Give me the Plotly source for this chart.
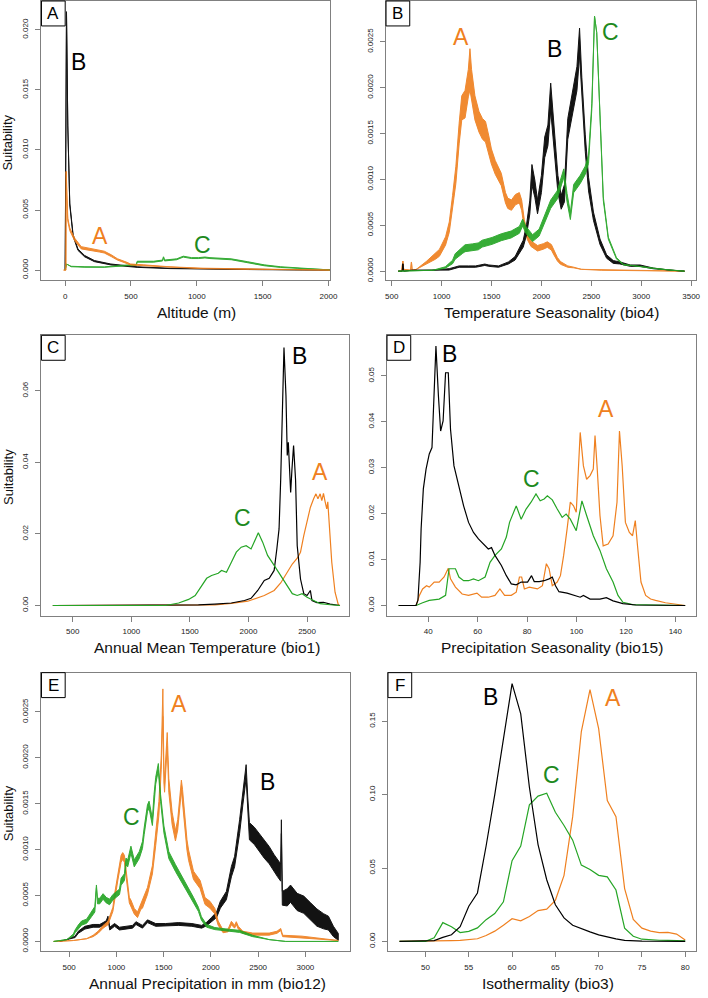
import numpy as np
import plotly.graph_objects as go

# ---------------- DATA ----------------
# Panel A: Altitude (m)
A_black_x = [0, 10, 20, 35, 60, 97, 147, 222, 347, 547, 797, 1047, 1500, 1800, 2000, 2030]
A_black_y = [0, 0.0215, 0.012, 0.0055, 0.0029, 0.0017, 0.00117, 0.00075, 0.00047, 0.00025, 0.00014, 0.0001, 0.00004, 0.00002, 0.00001, 0]
A_black_s = [0, 0, 0, 0.0002, 0.0002, 0.00015, 0.00015, 0.00012, 0.0001, 0.00006, 0.00004, 0.00003, 0.00002, 0, 0, 0]

A_orange_x = [-12, 5, 8, 12, 20, 35, 72, 122, 197, 260, 297, 350, 397, 470, 497, 597, 797, 1047, 1400, 1700, 2000, 2030]
A_orange_y = [0, 0, 0.0082, 0.006, 0.0042, 0.0034, 0.00255, 0.00186, 0.0017, 0.0016, 0.0015, 0.0012, 0.00089, 0.0006, 0.00047, 0.0004, 0.00025, 0.00014, 0.00008, 0.00004, 0.00001, 0]
A_orange_s = [0, 0, 0, 0.0003, 0.0003, 0.0003, 0.0003, 0.00025, 0.00025, 0.00025, 0.0002, 0.0002, 0.00015, 0.00012, 0.0001, 0.0001, 0.00006, 0.00005, 0.00003, 0.00002, 0, 0]

A_green_x = [0, 10, 20, 45, 150, 297, 472, 540, 547, 672, 740, 747, 755, 847, 897, 960, 1012, 1062, 1100, 1262, 1387, 1512, 1637, 1762, 2012, 2030]
A_green_y = [0, 0.0005, 0.00045, 0.0003, 0.00026, 0.00025, 0.0004, 0.00042, 0.0007, 0.0007, 0.0008, 0.0011, 0.0008, 0.0009, 0.00112, 0.001, 0.001, 0.00105, 0.001, 0.0009, 0.00066, 0.0004, 0.00025, 0.00017, 0.00003, 0]
A_green_s = [0, 0, 0, 0.00005, 0.00005, 0.00005, 0.00008, 0.00008, 0.0001, 0.0001, 0.0001, 0, 0.0001, 0.0001, 0.0001, 0.0001, 0.0001, 0.0001, 0.0001, 0.0001, 0.0001, 0.0001, 0.00008, 0.00006, 0.00002, 0]

# Panel B: Temperature Seasonality (bio4)
B_orange_x = [566, 600, 612, 620, 690, 698, 705, 747, 846, 938, 978, 1040, 1077, 1110, 1143, 1176, 1202, 1235, 1268, 1284,
              1300, 1334, 1374, 1410, 1440, 1473, 1499, 1538, 1598, 1640, 1663, 1700, 1740, 1779, 1802, 1828, 1860, 1895, 1961, 2020,
              2059, 2100, 2125, 2160, 2191, 2264, 2323, 2400, 2600, 3000, 3434]
B_orange_y = [0, 0, 0.00011, 0.00002, 0.00001, 0.0001, 0.00001, 0.00002, 0.00009, 0.00016, 0.0002, 0.00033, 0.00048, 0.00075, 0.00105, 0.0015, 0.00178, 0.00182, 0.00205, 0.0022,
              0.00205, 0.00178, 0.00163, 0.00155, 0.00152, 0.00138, 0.00125, 0.00113, 0.001, 0.0008, 0.00074, 0.00072, 0.00078, 0.0008, 0.00072, 0.00052, 0.00038, 0.0003, 0.00025, 0.00027,
              0.00029, 0.00026, 0.0002, 0.00013, 0.00009, 0.00005, 0.00004, 0.00002, 0.00001, 0.000005, 0]
B_orange_s = [0, 0, 0, 0, 0, 0, 0, 0, 0.00004, 0.00008, 0.0001, 0.00012, 0.00015, 0.0002, 0.00025, 0.0003, 0.00035, 0.0004, 0.0004, 0.0006,
              0.0004, 0.00035, 0.0003, 0.0003, 0.0003, 0.00025, 0.00022, 0.0002, 0.00018, 0.00015, 0.00015, 0.00015, 0.00015, 0.00015, 0.00015, 0.00012, 0.0001, 0.00008, 0.00008, 0.00008,
              0.00008, 0.00008, 0.00006, 0.00005, 0.00004, 0.00002, 0.00001, 0, 0, 0, 0]

B_black_x = [566, 606, 612, 620, 700, 900, 1077, 1176, 1268, 1341, 1433, 1473, 1571, 1670, 1736, 1785, 1818, 1851, 1884, 1905,
             1934, 1961, 2000, 2033, 2065, 2093, 2125, 2165, 2198, 2231, 2264, 2313, 2356, 2382, 2405, 2439, 2472, 2521, 2587, 2653,
             2720, 2785, 2890, 2989, 3121, 3300, 3434]
B_black_y = [0, 0, 0.00008, 0, 0.00001, 0.00001, 0.00002, 0.00005, 0.00005, 0.00005, 0.00007, 0.00006, 0.00005, 0.00009, 0.00014, 0.00024, 0.0003, 0.00045, 0.0007, 0.00105,
             0.0009, 0.0007, 0.00095, 0.00135, 0.00148, 0.0019, 0.00145, 0.00095, 0.00075, 0.00085, 0.00155, 0.00185, 0.0021, 0.0025, 0.002, 0.0014, 0.00095, 0.0006, 0.00032, 0.00016,
             0.0001, 0.00009, 0.00006, 0.00006, 0.00003, 0.00001, 0]
B_black_s = [0, 0, 0, 0, 0, 0, 0.00002, 0.00002, 0.00002, 0.00002, 0.00002, 0.00002, 0.00002, 0.00003, 0.00005, 0.00008, 0.0001, 0.00015, 0.0002, 0.0003,
             0.00025, 0.0002, 0.00025, 0.0003, 0.0003, 0.0004, 0.0003, 0.00025, 0.0002, 0.00025, 0.0003, 0.0003, 0.00035, 0.0004, 0.0003, 0.00025, 0.0002, 0.00012, 0.00008, 0.00005,
             0.00004, 0.00003, 0.00002, 0.00002, 0.00001, 0, 0]

B_green_x = [566, 912, 1037, 1110, 1136, 1209, 1235, 1308, 1367, 1407, 1466, 1506, 1598, 1697, 1779, 1812, 1845, 1911, 1977, 2043,
             2093, 2158, 2191, 2224, 2257, 2290, 2323, 2389, 2439, 2472, 2505, 2532, 2554, 2587, 2620, 2670, 2752, 2824, 2917, 3115,
             3300, 3434]
B_green_y = [0, 0.00001, 0.00004, 0.0001, 0.00016, 0.00023, 0.00025, 0.00026, 0.00027, 0.0003, 0.00032, 0.00033, 0.00037, 0.0004, 0.00045, 0.00053, 0.00045, 0.00036, 0.00042, 0.0006,
             0.00073, 0.00083, 0.00095, 0.00107, 0.0008, 0.0006, 0.0009, 0.001, 0.0011, 0.00122, 0.0018, 0.00278, 0.0026, 0.00168, 0.00079, 0.00036, 0.00014, 0.00007, 0.00006, 0.00003,
             0.00001, 0]
B_green_s = [0, 0, 0.00002, 0.00005, 0.00008, 0.0001, 0.0001, 0.0001, 0.0001, 0.0001, 0.0001, 0.0001, 0.0001, 0.0001, 0.0001, 0.0001, 0.0001, 0.0001, 0.0001, 0.0001,
             0.00012, 0.00012, 0.00012, 0.00012, 0.00012, 0.0001, 0.00012, 0.00012, 0.00012, 0.00012, 0.00008, 0, 0, 0.00008, 0.00005, 0.00003, 0.00002, 0.00001, 0, 0,
             0, 0]

# Panel C: Annual Mean Temperature (bio1)
C_green_x = [330, 1292, 1404, 1489, 1545, 1601, 1643, 1685, 1742, 1770, 1812, 1854, 1896, 1938, 1980, 2022, 2051, 2084, 2121, 2163,
             2219, 2275, 2331, 2374, 2416, 2458, 2500, 2556, 2612, 2697, 2781]
C_green_y = [0, 0, 0.0007, 0.0017, 0.0028, 0.0056, 0.0076, 0.0084, 0.009, 0.0098, 0.0093, 0.0121, 0.0149, 0.0163, 0.0167, 0.0158, 0.0177, 0.0203, 0.0177, 0.014,
             0.0112, 0.0084, 0.0056, 0.0033, 0.0028, 0.0033, 0.0023, 0.0014, 0.0005, 0.0002, 0]
C_black_x = [330, 1461, 1573, 1713, 1854, 1966, 2022, 2079, 2135, 2177, 2219, 2242, 2261, 2275, 2289, 2303, 2320, 2331, 2340, 2348,
             2360, 2371, 2385, 2402, 2416, 2444, 2472, 2500, 2528, 2542, 2584, 2640, 2697, 2781]
C_black_y = [0, 0, 0.0002, 0.0004, 0.0007, 0.0014, 0.002, 0.0042, 0.007, 0.0076, 0.0098, 0.0158, 0.0214, 0.0353, 0.0586, 0.0721, 0.0586, 0.0419, 0.0456, 0.038,
             0.0316, 0.038, 0.0447, 0.035, 0.0167, 0.0074, 0.0033, 0.0028, 0.0042, 0.0014, 0.0008, 0.0009, 0.0004, 0]
C_orange_x = [330, 1600, 1713, 1854, 1994, 2135, 2219, 2275, 2331, 2374, 2416, 2444, 2472, 2500, 2528, 2556, 2576, 2593, 2612, 2626,
              2640, 2654, 2668, 2677, 2685, 2711, 2739, 2767, 2781]
C_orange_y = [0, 0, 0.0002, 0.0006, 0.0012, 0.0028, 0.0042, 0.0063, 0.0093, 0.0116, 0.0132, 0.0149, 0.0195, 0.0233, 0.0274, 0.0298, 0.0312, 0.0298, 0.0312, 0.0293,
              0.0313, 0.029, 0.027, 0.029, 0.0255, 0.0121, 0.0037, 0.0002, 0]

# Panel D: Precipitation Seasonality (bio15)
D_black_x = [28, 35, 35.8, 36.7, 37.1, 38, 39.1, 40.4, 41.5, 42.4, 43.1, 44.1, 45, 46, 47, 48.1, 49, 50.4, 52.4, 54.3,
             56.3, 58.3, 60.3, 63, 64.3, 65.6, 67, 69.6, 71.6, 73.6, 75.6, 77.6, 80.2, 81.8, 82.9, 84.9, 86.9, 88.9, 90.2, 91.5,
             92.9, 96.2, 98.8, 101.5, 102.8, 105.5, 109.5, 112.1, 114.8, 118.8, 124, 144]
D_black_y = [0, 0, 0.0011, 0.0094, 0.0167, 0.0254, 0.0297, 0.033, 0.0344, 0.0478, 0.0565, 0.0457, 0.038, 0.0402, 0.0507, 0.0507, 0.0384, 0.0304, 0.0261, 0.0217,
             0.0181, 0.0159, 0.0145, 0.013, 0.0123, 0.0126, 0.0109, 0.0087, 0.0065, 0.0047, 0.0045, 0.0051, 0.0051, 0.0065, 0.0052, 0.0052, 0.0054, 0.0058, 0.0062, 0.0043,
             0.003, 0.0027, 0.0022, 0.0018, 0.0022, 0.0014, 0.0014, 0.0017, 0.001, 0.0004, 0.0001, 0]
D_orange_x = [28, 35.1, 36.4, 37.7, 39.3, 40.4, 42.4, 44.4, 46.4, 48.1, 49, 51, 53.7, 56.3, 59.7, 61.6, 64.3, 67, 69, 70.9,
              73.6, 75.6, 76.9, 77.8, 78.9, 80.9, 84.2, 86.2, 87.8, 88.9, 90.2, 92.2, 93.5, 94.8, 96.2, 97.5, 98.8, 99.9, 101.5, 102.8,
              104.1, 105.5, 106.8, 107.5, 108.4, 109.5, 110.8, 112.8, 114.8, 116.4, 117.4, 118.5, 119.8, 121.4, 122.7, 123.8, 124.7, 126.1, 128, 130,
              132, 136, 144]
D_orange_y = [0, 0, 0.0022, 0.0036, 0.0043, 0.004, 0.0051, 0.0051, 0.0062, 0.0081, 0.0058, 0.004, 0.0025, 0.0022, 0.0027, 0.0018, 0.0018, 0.0022, 0.0036, 0.0022,
              0.0022, 0.0029, 0.0062, 0.0062, 0.0036, 0.004, 0.0036, 0.0043, 0.0091, 0.008, 0.0043, 0.0051, 0.0065, 0.0109, 0.0167, 0.0225, 0.0217, 0.0203, 0.0377, 0.0304,
              0.0275, 0.0283, 0.0297, 0.037, 0.0297, 0.0196, 0.013, 0.0134, 0.0152, 0.0225, 0.038, 0.0304, 0.0181, 0.0159, 0.0152, 0.0185, 0.013, 0.0051, 0.0022, 0.0014,
              0.0011, 0.0006, 0]
D_green_x = [28, 35.1, 37.7, 40.4, 44.4, 47, 48.4, 51, 52.4, 54.3, 56.3, 58.3, 60.3, 63, 65, 67, 69.6, 71.6, 72.9, 74.3,
             75.6, 77.6, 79.6, 81.6, 83.6, 85.3, 86.9, 88.2, 90.2, 92.2, 94.2, 95.8, 97.5, 99.9, 102.2, 104.1, 106.8, 109.5, 112.1, 114.8,
             116.8, 118.8, 122.7, 144]
D_green_y = [0, 0, 0.0006, 0.0011, 0.0014, 0.0022, 0.008, 0.008, 0.0062, 0.0054, 0.0054, 0.0058, 0.0054, 0.0062, 0.0094, 0.0109, 0.0123, 0.0149, 0.0181, 0.0199,
             0.0217, 0.0188, 0.021, 0.0225, 0.0243, 0.0228, 0.0232, 0.0239, 0.023, 0.021, 0.0192, 0.0199, 0.0188, 0.0163, 0.0228, 0.0196, 0.0152, 0.012, 0.008, 0.0051,
             0.0022, 0.0007, 0.0002, 0]

# Panel E: Annual Precipitation in mm (bio12)
E_orange_x = [336, 545, 685, 754, 807, 860, 911, 963, 980, 1015, 1050, 1067, 1085, 1102, 1137, 1154, 1189, 1224, 1259, 1276,
              1329, 1381, 1416, 1450, 1475, 1492, 1503, 1510, 1538, 1555, 1590, 1625, 1649, 1688, 1700, 1719, 1747, 1764, 1816, 1886,
              1938, 1990, 2042, 2077, 2129, 2182, 2217, 2251, 2269, 2290, 2338, 2443, 2617, 2700, 2739, 2760, 2965, 3348]
E_orange_y = [0, 0.00001, 0.00003, 0.00006, 0.0001, 0.00016, 0.0002, 0.00035, 0.00048, 0.0007, 0.0009, 0.00093, 0.0009, 0.00075, 0.00045, 0.00042, 0.00033, 0.00029, 0.00038, 0.0004,
              0.00055, 0.00078, 0.0011, 0.00145, 0.00195, 0.0026, 0.0018, 0.0017, 0.0022, 0.0017, 0.00134, 0.00115, 0.00127, 0.0017, 0.0016, 0.00134, 0.00105, 0.00094, 0.00072, 0.00062,
              0.00044, 0.0004, 0.00033, 0.0002, 0.00011, 0.00012, 0.0002, 0.00016, 0.0002, 0.00015, 0.0001, 0.00008, 0.00008, 0.0001, 0.00013, 0.00006, 0.00005, 0.00001]
E_orange_s = [0, 0, 0, 0.00002, 0.00003, 0.00004, 0.00005, 0.00006, 0.00008, 0.0001, 0.0001, 0.0001, 0.0001, 0.0001, 0.00008, 0.00008, 0.00008, 0.00008, 0.00008, 0.0001,
              0.0001, 0.00012, 0.00015, 0.0002, 0.0002, 0.0004, 0.0002, 0.0002, 0.0002, 0.0002, 0.00018, 0.00015, 0.00015, 0.00015, 0.00015, 0.00015, 0.00015, 0.00015, 0.00012, 0.00012,
              0.0001, 0.0001, 0.00008, 0.00006, 0.00004, 0.00004, 0.00005, 0.00004, 0.00004, 0.00004, 0.00003, 0.00003, 0.00003, 0.00003, 0.00003, 0.00002, 0.00002, 0]

E_green_x = [336, 476, 545, 563, 597, 632, 685, 737, 772, 789, 800, 824, 859, 893, 928, 963, 1033, 1050, 1085, 1102,
             1120, 1154, 1189, 1242, 1276, 1294, 1329, 1346, 1381, 1398, 1416, 1444, 1468, 1503, 1555, 1625, 1694, 1764, 1816, 1868,
             1900, 1955, 2042, 2200, 2303, 2442, 2617, 2791, 3348]
E_green_y = [0, 0.00002, 0.00007, 0.00011, 0.00016, 0.0002, 0.00022, 0.0003, 0.00035, 0.0006, 0.00044, 0.00044, 0.00049, 0.00045, 0.00043, 0.00048, 0.00054, 0.00065, 0.0007, 0.00087,
             0.00085, 0.001, 0.00085, 0.00094, 0.00105, 0.0012, 0.00145, 0.00149, 0.0013, 0.00156, 0.00175, 0.0019, 0.00156, 0.00122, 0.00094, 0.0008, 0.00067, 0.00055, 0.00045, 0.00035,
             0.00025, 0.00017, 0.00014, 0.00012, 0.00011, 0.00006, 0.00002, 0, 0]
E_green_s = [0, 0, 0.00003, 0.00004, 0.00005, 0.00006, 0.00006, 0.00008, 0.00008, 0.00004, 0.00008, 0.00008, 0.00008, 0.00008, 0.00008, 0.00008, 0.00008, 0.0001, 0.0001, 0.0001,
             0.0001, 0.0001, 0.0001, 0.0001, 0.0001, 0.0001, 0.0001, 0.0001, 0.0001, 0.0001, 0.0001, 0.0001, 0.0001, 0.0001, 0.0001, 0.0001, 0.0001, 0.0001, 0.00008, 0.00006,
             0.00005, 0.00004, 0.00003, 0.00003, 0.00003, 0.00002, 0, 0, 0]

E_black_x = [400, 476, 563, 597, 667, 754, 824, 893, 911, 930, 981, 1033, 1172, 1207, 1276, 1329, 1416, 1520, 1659, 1799,
             1903, 1955, 2008, 2060, 2100, 2164, 2217, 2251, 2304, 2338, 2373, 2390, 2408, 2460, 2512, 2565, 2617, 2670, 2704, 2739,
             2746, 2756, 2808, 2843, 2913, 2983, 3052, 3122, 3192, 3244, 3296, 3348]
E_black_y = [0, 0.00002, 0.00005, 0.0001, 0.00015, 0.00017, 0.00017, 0.00021, 0.00026, 0.00014, 0.00018, 0.00014, 0.00016, 0.0002, 0.00016, 0.00022, 0.00018, 0.00018, 0.00019, 0.00018,
             0.00016, 0.00019, 0.00024, 0.00029, 0.0004, 0.0005, 0.00076, 0.00087, 0.00125, 0.00156, 0.00185, 0.0015, 0.0012, 0.00115, 0.00108, 0.001, 0.00094, 0.00085, 0.0008, 0.00075,
             0.00125, 0.00047, 0.00048, 0.00052, 0.00043, 0.0004, 0.00033, 0.00026, 0.00022, 0.0002, 0.00011, 0.00005]
E_black_s = [0, 0, 0.00002, 0.00003, 0.00004, 0.00004, 0.00004, 0.00004, 0.00004, 0.00004, 0.00004, 0.00004, 0.00004, 0.00004, 0.00004, 0.00004, 0.00004, 0.00004, 0.00004, 0.00004,
             0.00004, 0.00005, 0.00006, 0.00008, 0.0001, 0.00012, 0.00015, 0.00015, 0.0002, 0.0002, 0.0002, 0.0002, 0.00025, 0.00025, 0.00025, 0.00025, 0.00025, 0.00025, 0.00025, 0.00025,
             0.0002, 0.0002, 0.00025, 0.00025, 0.00025, 0.00025, 0.00025, 0.00025, 0.00022, 0.0002, 0.00015, 0.0001]

# Panel F: Isothermality (bio3)
F_x = [47, 48, 49, 50, 51, 52, 53, 54, 55, 56, 57, 58, 59, 60, 61, 62, 63, 64, 65, 66,
       67, 68, 69, 70, 71, 72, 73, 74, 75, 76, 77, 78, 79, 80]
F_black_y = [0, 0, 0, 0, 0.0005, 0.0027, 0.0045, 0.01, 0.024, 0.033, 0.065, 0.1, 0.137, 0.1756, 0.155, 0.105, 0.066, 0.042, 0.025, 0.016,
             0.011, 0.0085, 0.0065, 0.0045, 0.003, 0.0017, 0.0007, 0.0003, 0.0002, 0.0001, 0.0001, 0.0001, 0.0001, 0]
F_orange_y = [0, 0, 0, 0, 0.0002, 0.0003, 0.0005, 0.0007, 0.001, 0.0018, 0.004, 0.007, 0.011, 0.0155, 0.014, 0.017, 0.021, 0.022, 0.028, 0.045,
              0.085, 0.143, 0.1715, 0.145, 0.096, 0.085, 0.036, 0.015, 0.009, 0.007, 0.006, 0.0062, 0.005, 0.001]
F_green_y = [0, 0, 0, 0, 0.0025, 0.0128, 0.01, 0.006, 0.0068, 0.0092, 0.0148, 0.019, 0.027, 0.055, 0.065, 0.093, 0.099, 0.101, 0.088, 0.079,
             0.069, 0.052, 0.049, 0.045, 0.044, 0.035, 0.009, 0.0035, 0.0015, 0.001, 0.0008, 0.0007, 0.0005, 0.0003]

# Tick values
A_xticks = [0, 500, 1000, 1500, 2000]
A_yticks = [0, 0.005, 0.010, 0.015, 0.020]
B_xticks = [500, 1000, 1500, 2000, 2500, 3000, 3500]
B_yticks = [0, 0.0005, 0.0010, 0.0015, 0.0020, 0.0025]
C_xticks = [500, 1000, 1500, 2000, 2500]
C_yticks = [0, 0.02, 0.04, 0.06]
D_xticks = [40, 60, 80, 100, 120, 140]
D_yticks = [0, 0.01, 0.02, 0.03, 0.04, 0.05]
E_xticks = [500, 1000, 1500, 2000, 2500, 3000]
E_yticks = [0, 0.0005, 0.0010, 0.0015, 0.0020, 0.0025]
F_xticks = [50, 55, 60, 65, 70, 75, 80]
F_yticks = [0, 0.05, 0.10, 0.15]

# ---------------- STYLE / LAYOUT ----------------
W, H = 708, 998
FONT = "Liberation Sans, Arial, sans-serif"
BLACK = "#000000"
ORANGE = "#EF8020"
GREEN = "#25A525"
GREEN_LBL = "#1E8A1E"
FRAME = "#808080"
BAND_SCALE = 0.75   # visual thickness of the noisy bands


def pxx(p):
    return p / W


def pxy(p):
    return 1 - p / H


panels = [
    dict(box=(41, 1, 333, 281), xr=(-180, 2010), yr=(-0.00086, 0.0224), xt=A_xticks, yt=A_yticks, yd=3,
         xtitle="Altitude (m)", tx=198, ty=313, ylab=143, letter="A"),
    dict(box=(390, 1, 704, 281), xr=(443.6, 3549), yr=(-0.000101, 0.002945), xt=B_xticks, yt=B_yticks, yd=4,
         xtitle="Temperature Seasonality (bio4)", tx=558, ty=313, ylab=None, letter="B"),
    dict(box=(41, 336, 352, 617), xr=(233, 2854), yr=(-0.00287, 0.0755), xt=C_xticks, yt=C_yticks, yd=2,
         xtitle="Annual Mean Temperature (bio1)", tx=209, ty=649, ylab=478, letter="C"),
    dict(box=(391, 336, 704, 617), xr=(23.3, 148.4), yr=(-0.00224, 0.05885), xt=D_xticks, yt=D_yticks, yd=2,
         xtitle="Precipitation Seasonality (bio15)", tx=558, ty=649, ylab=None, letter="D"),
    dict(box=(41, 674, 353, 953), xr=(207.5, 3467), yr=(-0.000105, 0.002927), xt=E_xticks, yt=E_yticks, yd=4,
         xtitle="Annual Precipitation in mm (bio12)", tx=209, ty=985, ylab=815, letter="E"),
    dict(box=(392, 674, 704, 953), xr=(45.67, 81.25), yr=(-0.0066, 0.1831), xt=F_xticks, yt=F_yticks, yd=2,
         xtitle="Isothermality (bio3)", tx=554, ty=985, ylab=None, letter="F"),
]

fig = go.Figure()


def axis_ids(i):
    s = "" if i == 0 else str(i + 1)
    return "x" + s, "y" + s


def add_series(i, x, y, color, spread=None, width=1.2):
    xa, ya = axis_ids(i)
    x = np.asarray(x, dtype=float)
    y = np.asarray(y, dtype=float)
    if spread is not None:
        s = np.asarray(spread, dtype=float) * BAND_SCALE
        lo = np.clip(y - s / 2, 0, None)
        hi = y + s / 2
        fig.add_trace(go.Scatter(x=np.concatenate([x, x[::-1]]), y=np.concatenate([hi, lo[::-1]]),
                                 mode="lines", fill="toself", fillcolor=color, opacity=0.92,
                                 line=dict(color=color, width=1.0), xaxis=xa, yaxis=ya,
                                 hoverinfo="skip", showlegend=False))
    else:
        fig.add_trace(go.Scatter(x=x, y=y, mode="lines", line=dict(color=color, width=width),
                                 xaxis=xa, yaxis=ya, showlegend=False))


# Panel A
add_series(0, A_black_x, A_black_y, BLACK, A_black_s)
add_series(0, A_green_x, A_green_y, GREEN, A_green_s)
add_series(0, A_orange_x, A_orange_y, ORANGE, A_orange_s)
# Panel B
add_series(1, B_orange_x, B_orange_y, ORANGE, B_orange_s)
add_series(1, B_black_x, B_black_y, BLACK, B_black_s)
add_series(1, B_green_x, B_green_y, GREEN, B_green_s)
# Panel C
add_series(2, C_orange_x, C_orange_y, ORANGE)
add_series(2, C_black_x, C_black_y, BLACK)
add_series(2, C_green_x, C_green_y, GREEN)
# Panel D
add_series(3, D_orange_x, D_orange_y, ORANGE)
add_series(3, D_green_x, D_green_y, GREEN)
add_series(3, D_black_x, D_black_y, BLACK)
# Panel E
add_series(4, E_black_x, E_black_y, BLACK, E_black_s)
add_series(4, E_orange_x, E_orange_y, ORANGE, E_orange_s)
add_series(4, E_green_x, E_green_y, GREEN, E_green_s)
# Panel F
add_series(5, F_x, F_orange_y, ORANGE)
add_series(5, F_x, F_green_y, GREEN)
add_series(5, F_x, F_black_y, BLACK)

# Curve labels (data coords)
curve_labels = [
    (0, "B", 105, 0.0173, BLACK), (0, "A", 262, 0.0028, ORANGE), (0, "C", 1043, 0.00213, GREEN_LBL),
    (1, "A", 1192, 0.00255, ORANGE), (1, "B", 2132, 0.00242, BLACK), (1, "C", 2692, 0.00261, GREEN_LBL),
    (2, "B", 2438, 0.0696, BLACK), (2, "A", 2607, 0.0372, ORANGE), (2, "C", 1946, 0.0244, GREEN_LBL),
    (3, "B", 48.4, 0.0547, BLACK), (3, "A", 111.8, 0.0429, ORANGE), (3, "C", 81.6, 0.0275, GREEN_LBL),
    (4, "A", 1659, 0.00259, ORANGE), (4, "B", 2600, 0.00174, BLACK), (4, "C", 1165, 0.00135, GREEN_LBL),
    (5, "B", 57.5, 0.1665, BLACK), (5, "A", 71.6, 0.1658, ORANGE), (5, "C", 64.6, 0.1132, GREEN_LBL),
]

annotations = []
shapes = []
layout = dict(width=W, height=H, margin=dict(l=0, r=0, t=0, b=0),
              paper_bgcolor="white", plot_bgcolor="white", showlegend=False,
              font=dict(family=FONT, color="#222222"))

for i, p in enumerate(panels):
    l, t, r, b = p["box"]
    s = "" if i == 0 else str(i + 1)
    layout["xaxis" + s] = dict(
        domain=[pxx(l), pxx(r)], range=list(p["xr"]), anchor="y" + s,
        tickvals=p["xt"], ticktext=[str(v) for v in p["xt"]],
        showline=True, mirror=True, linecolor=FRAME, linewidth=1,
        ticks="outside", ticklen=5, tickcolor=FRAME, tickwidth=1, ticklabelstandoff=3,
        showgrid=False, zeroline=False, tickfont=dict(size=8, color="#222222", family=FONT),
    )
    layout["yaxis" + s] = dict(
        domain=[pxy(b), pxy(t)], range=list(p["yr"]), anchor="x" + s,
        tickvals=p["yt"], ticktext=[f"{v:.{p['yd']}f}" for v in p["yt"]], tickangle=-90,
        showline=True, mirror=True, linecolor=FRAME, linewidth=1,
        ticks="outside", ticklen=5, tickcolor=FRAME, tickwidth=1, ticklabelstandoff=4,
        showgrid=False, zeroline=False, tickfont=dict(size=8, color="#222222", family=FONT),
    )
    annotations.append(dict(text=p["xtitle"], x=pxx(p["tx"]), y=pxy(p["ty"]), xref="paper", yref="paper",
                            showarrow=False, xanchor="center", yanchor="middle",
                            font=dict(size=15.5, color="#111111", family=FONT)))
    if p["ylab"] is not None:
        annotations.append(dict(text="Suitability", x=pxx(7), y=pxy(p["ylab"]), xref="paper", yref="paper",
                                showarrow=False, textangle=-90, xanchor="center", yanchor="middle",
                                font=dict(size=13, color="#111111", family=FONT)))
    shapes.append(dict(type="rect", xref="paper", yref="paper", x0=pxx(l), x1=pxx(l + 24),
                       y0=pxy(t + 25), y1=pxy(t), line=dict(color="black", width=1), fillcolor="white"))
    annotations.append(dict(text=p["letter"], x=pxx(l + 12), y=pxy(t + 12.5), xref="paper", yref="paper",
                            showarrow=False, xanchor="center", yanchor="middle",
                            font=dict(size=17, color="black", family=FONT)))

for (i, txt, x, y, col) in curve_labels:
    xa, ya = axis_ids(i)
    annotations.append(dict(text=txt, x=x, y=y, xref=xa, yref=ya, showarrow=False,
                            xanchor="center", yanchor="middle",
                            font=dict(size=23, color=col, family=FONT)))

layout["annotations"] = annotations
layout["shapes"] = shapes
fig.update_layout(**layout)
fig.write_html("out.html",
               config={"displayModeBar": False, "staticPlot": True},
               post_script="document.body.style.margin='0px';document.body.style.overflow='hidden';")
